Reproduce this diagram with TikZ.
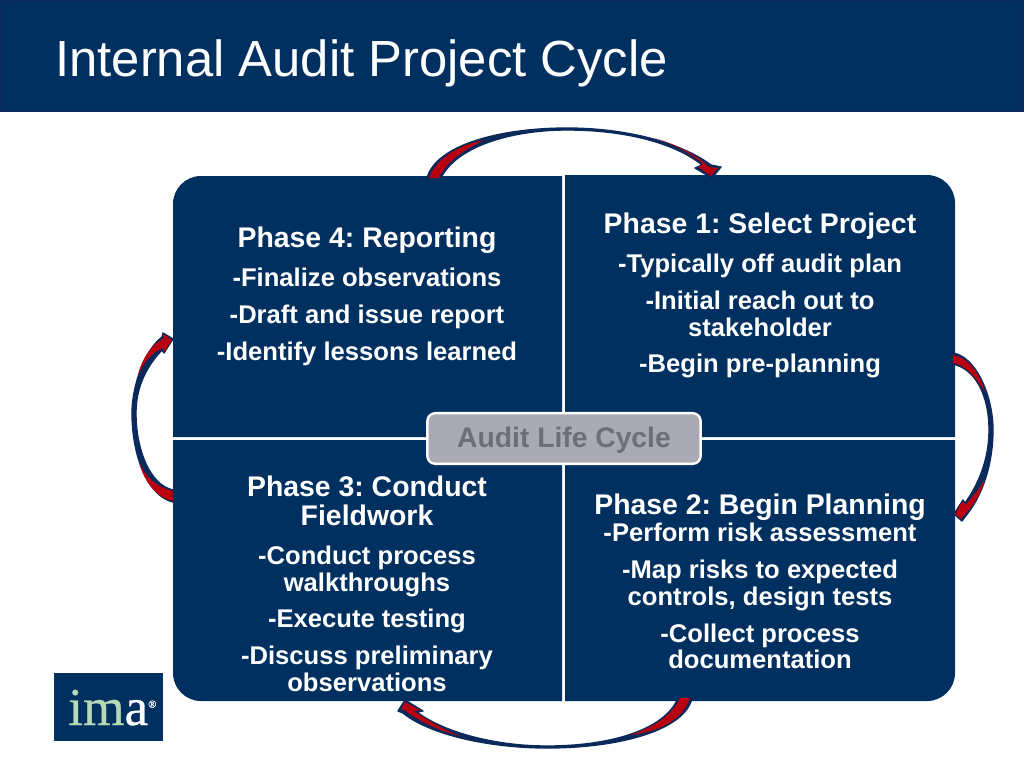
\documentclass[tikz,border=0pt]{standalone}
\usepackage{fontspec}
\setmainfont{Liberation Sans}
\newfontfamily\logofont[FakeBold=0.6]{Liberation Serif}
\usetikzlibrary{positioning}
\definecolor{imanavy}{HTML}{003060}
\definecolor{arrownavy}{HTML}{0B2A5B}
\definecolor{arrowred}{HTML}{B8000F}
\definecolor{imagreen}{HTML}{B7D8B4}
\definecolor{labelgray}{HTML}{AAAAB4}
\definecolor{labeltext}{HTML}{6E6E78}
\frenchspacing
\tikzset{
  quadrant/.style={fill=imanavy},
  arrowbody/.style={fill=arrownavy, draw=arrownavy, line width=1pt, line join=round},
  arrowfill/.style={fill=arrowred},
  titletext/.style={text=white, inner sep=0pt, font=\fontsize{38.1}{44}\selectfont},
  phasehead/.style={text=white, inner sep=0pt, align=center, font=\fontsize{21.3}{21.5}\selectfont\bfseries, execute at begin node=\strut, execute at end node=\strut},
  phaseitem/.style={text=white, inner sep=0pt, align=center, font=\fontsize{19.2}{20}\selectfont\bfseries, execute at begin node=\strut, execute at end node=\strut},
}
\begin{document}
\begin{tikzpicture}[x=0.75pt, y=-0.75pt]
  \useasboundingbox (0,0) rectangle (1024,768);
  \fill[white] (0,0) rectangle (1024,768);

  % title band
  \fill[imanavy, draw=arrownavy, line width=1.5pt] (0,0) rectangle (1024,111);
  \node[titletext, anchor=base west] (title) at (55,76) {Internal Audit Project Cycle};

  % quadrants
  \fill[quadrant] (173,437) [rounded corners=21pt] -- (173,176) [sharp corners] -- (562,176) -- (562,437) -- cycle;
  \fill[quadrant] (565,175) [rounded corners=21pt] -- (955,175) [sharp corners] -- (955,437) -- (565,437) -- cycle;
  \fill[quadrant] (173,440) [rounded corners=21pt] -- (173,701) [sharp corners] -- (562,701) -- (562,440) -- cycle;
  \fill[quadrant] (955,440) [rounded corners=21pt] -- (955,701) [sharp corners] -- (565,701) -- (565,440) -- cycle;

  % top arrow
  \path[arrowbody] (427,178) .. controls (436,145) and (500,128) .. (567,128) .. controls (625,128) and (680,142) .. (711,165)
    -- (721,167) -- (712,178) -- (695,168) -- (702,165) .. controls (675,143) and (625,130) .. (567,130) .. controls (510,130) and (456,147) .. (441,178) -- cycle;
  \fill[arrowfill] (429,178) .. controls (436,160) and (455,146) .. (484,140) .. controls (462,151) and (445,163) .. (439,178) -- cycle;
  \fill[arrowfill] (655,138) .. controls (677,145) and (697,155) .. (709,167) -- (718,168) -- (711,176) -- (698,167) -- (703,164) .. controls (690,153) and (675,145) .. (655,138) -- cycle;

  % right arrow
  \path[arrowbody] (952,353) .. controls (975,355) and (993,395) .. (993,430) .. controls (993,465) and (982,495) .. (968,513)
    -- (962,521) -- (954,514) -- (963,500) -- (965,503) .. controls (978,485) and (989,460) .. (989,430) .. controls (989,395) and (975,368) .. (952,364) -- cycle;
  \fill[arrowfill] (953,355) .. controls (965,357) and (978,368) .. (985,392) .. controls (975,376) and (965,365) .. (953,363) -- cycle;
  \fill[arrowfill] (985,478) .. controls (982,492) and (975,503) .. (966,513) -- (961,519) -- (955,514) -- (962,502) -- (966,504) .. controls (974,495) and (981,487) .. (985,478) -- cycle;

  % bottom arrow
  \path[arrowbody] (692,698) .. controls (685,730) and (620,748) .. (547,748) .. controls (490,748) and (430,735) .. (403,713)
    -- (398,711) -- (405,700) -- (423,711) -- (417,712) .. controls (440,730) and (490,746) .. (547,746) .. controls (610,746) and (665,730) .. (678,698) -- cycle;
  \fill[arrowfill] (680,698) .. controls (672,715) and (655,727) .. (630,735) .. controls (662,731) and (683,719) .. (690,698) -- cycle;
  \fill[arrowfill] (460,736) .. controls (440,731) and (420,722) .. (406,711) -- (401,709) -- (405,702) -- (420,710) -- (414,711) .. controls (430,722) and (445,730) .. (460,736) -- cycle;

  % left arrow
  \path[arrowbody] (173,502) .. controls (150,497) and (132,460) .. (132,413) .. controls (132,385) and (145,350) .. (162,337)
    -- (163,333) -- (173,339) -- (164,353) -- (162,350) .. controls (148,365) and (136,385) .. (136,413) .. controls (136,450) and (150,485) .. (173,490) -- cycle;
  \fill[arrowfill] (173,491) .. controls (158,488) and (145,477) .. (139,462) .. controls (144,482) and (157,498) .. (173,501) -- cycle;
  \fill[arrowfill] (138,375) .. controls (142,358) and (152,344) .. (163,339) -- (163,334) -- (172,340) -- (164,352) -- (163,348) .. controls (152,352) and (144,362) .. (138,375) -- cycle;

  % phase 4
  \node[phasehead, anchor=north] (p4head) at (367,227) {Phase 4: Reporting};
  \node[phaseitem, below=8pt of p4head] (p4a) {-Finalize observations};
  \node[phaseitem, below=7.5pt of p4a] (p4b) {-Draft and issue report};
  \node[phaseitem, below=7.5pt of p4b] (p4c) {-Identify lessons learned};

  % phase 1
  \node[phasehead, anchor=north] (p1head) at (760,213) {Phase 1: Select Project};
  \node[phaseitem, below=8.5pt of p1head] (p1a) {-Typically off audit plan};
  \node[phaseitem, below=7pt of p1a] (p1b) {-Initial reach out to\\stakeholder};
  \node[phaseitem, below=7pt of p1b] (p1c) {-Begin pre-planning};

  % phase 3
  \node[phasehead, anchor=north] (p3head) at (367,476) {Phase 3: Conduct\\Fieldwork};
  \node[phaseitem, below=8.5pt of p3head] (p3a) {-Conduct process\\walkthroughs};
  \node[phaseitem, below=7pt of p3a] (p3b) {-Execute testing};
  \node[phaseitem, below=7.5pt of p3b] (p3c) {-Discuss preliminary\\observations};

  % phase 2
  \node[phasehead, anchor=north] (p2head) at (760,494) {Phase 2: Begin Planning};
  \node[phaseitem, below=-0.5pt of p2head] (p2a) {-Perform risk assessment};
  \node[phaseitem, below=7pt of p2a] (p2b) {-Map risks to expected\\controls, design tests};
  \node[phaseitem, below=7.5pt of p2b] (p2c) {-Collect process\\documentation};

  % centre label
  \node[draw=white, line width=1.8pt, rounded corners=6pt, fill=labelgray, text=labeltext, minimum width=205pt, minimum height=38pt, inner sep=0pt, text depth=1.4pt, font=\fontsize{21.2}{24}\selectfont\bfseries] (cycle) at (564,438.5) {Audit Life Cycle};

  % logo
  \node[fill=imanavy, minimum width=82pt, minimum height=51pt, inner sep=0pt] (logo) at (108.5,707) {};
  \node[anchor=base west, inner sep=0pt, font=\logofont\fontsize{40}{41}\selectfont] (logotext) at (68,725)
    {\textcolor{imagreen}{im}\textcolor{white}{a}\raisebox{13pt}{\textcolor{white}{\fontsize{8}{8}\selectfont ®}}};
\end{tikzpicture}
\end{document}
